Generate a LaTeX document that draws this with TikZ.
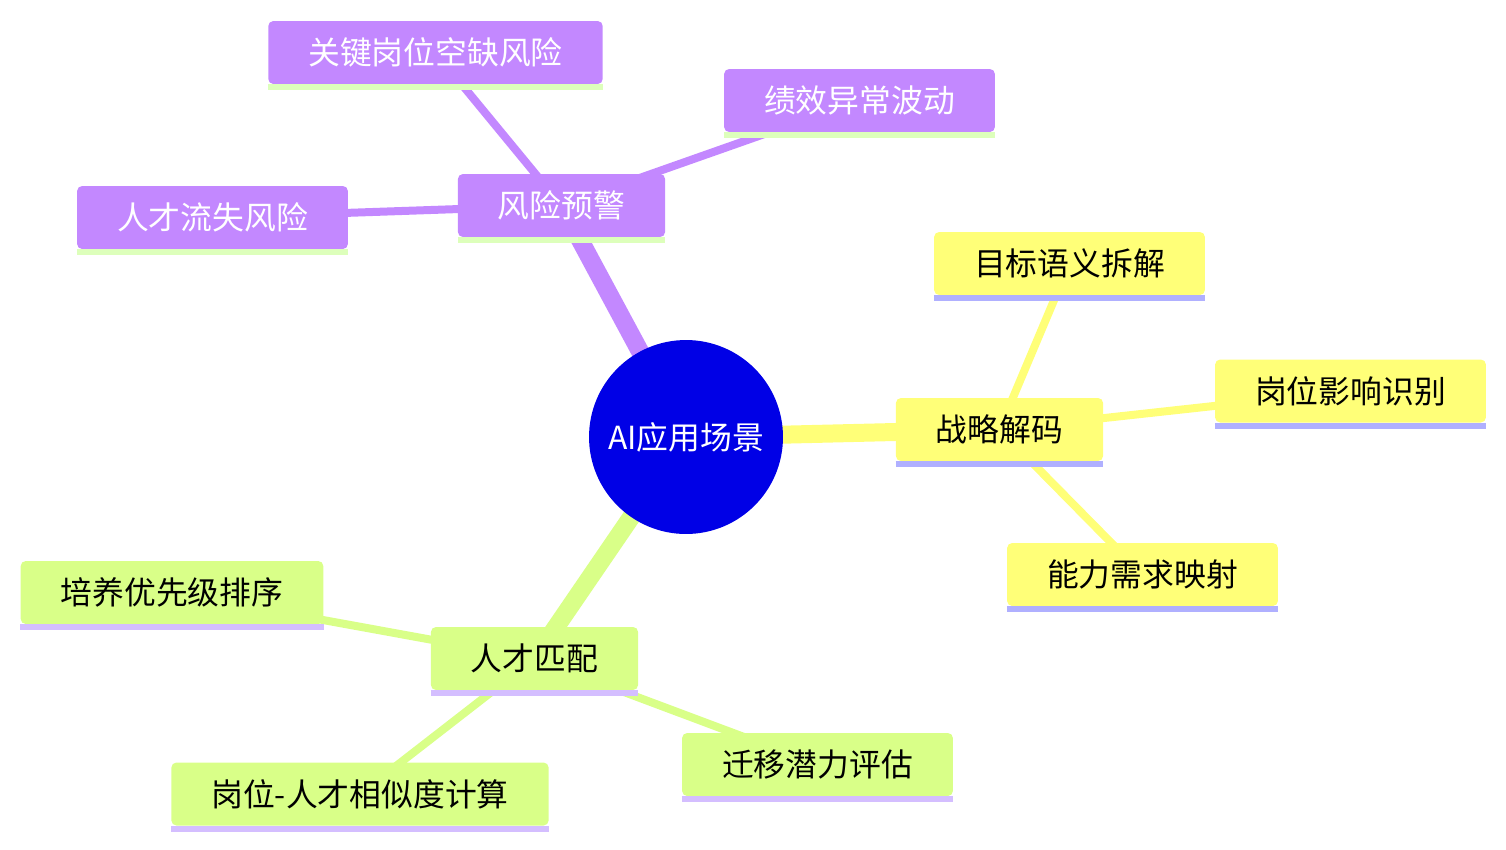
\documentclass[tikz,border=0pt]{standalone}
\usepackage{fontspec}
\newfontfamily\cjk{Noto Sans CJK SC}
\usetikzlibrary{backgrounds}

\definecolor{rootblue}{RGB}{0,0,230}
\definecolor{riskfill}{RGB}{195,136,255}
\definecolor{riskline}{RGB}{221,255,187}
\definecolor{stratfill}{RGB}{255,255,120}
\definecolor{stratline}{RGB}{176,176,255}
\definecolor{matchfill}{RGB}{217,255,136}
\definecolor{matchline}{RGB}{212,190,255}

\begin{document}
\begin{tikzpicture}[
    x=0.02cm, y=-0.02cm,
    box/.style={rectangle, rounded corners=0.1cm, minimum height=1.26cm, inner xsep=0.8cm, align=center, font=\cjk\fontsize{18.1}{22}\selectfont},
    risk/.style={box, fill=riskfill, text=white},
    strat/.style={box, fill=stratfill, text=black},
    match/.style={box, fill=matchfill, text=black},
    trunk/.style={line width=0.36cm},
    twig/.style={line width=0.16cm},
    uline/.style={line width=0.12cm}
]
\useasboundingbox (0,0) rectangle (1506,849);

% Root
\node[circle, fill=rootblue, text=white, minimum size=3.88cm, inner sep=0pt, font=\cjk\fontsize{18.1}{22}\selectfont] (root) at (686,437) {AI应用场景};

% Risk warning
\node[risk] (risk) at (561.5,205.5) {风险预警};
\node[risk] (loss) at (212.5,217.5) {人才流失风险};
\node[risk] (vacancy) at (435.5,52.5) {关键岗位空缺风险};
\node[risk] (perf) at (859.5,100.5) {绩效异常波动};

% Strategy decoding
\node[strat] (strat) at (999.5,429.5) {战略解码};
\node[strat] (goal) at (1069.5,263.5) {目标语义拆解};
\node[strat] (impact) at (1350.5,391) {岗位影响识别};
\node[strat] (ability) at (1142.5,574.5) {能力需求映射};

% Talent matching
\node[match] (match) at (534.5,658.5) {人才匹配};
\node[match] (train) at (172,592.5) {培养优先级排序};
\node[match] (sim) at (360,794) {岗位-人才相似度计算};
\node[match] (transfer) at (817.5,764.5) {迁移潜力评估};

% Underlines
\draw[uline, riskline] ([yshift=-0.06cm]risk.south west) -- ([yshift=-0.06cm]risk.south east);
\draw[uline, riskline] ([yshift=-0.06cm]loss.south west) -- ([yshift=-0.06cm]loss.south east);
\draw[uline, riskline] ([yshift=-0.06cm]vacancy.south west) -- ([yshift=-0.06cm]vacancy.south east);
\draw[uline, riskline] ([yshift=-0.06cm]perf.south west) -- ([yshift=-0.06cm]perf.south east);
\draw[uline, stratline] ([yshift=-0.06cm]strat.south west) -- ([yshift=-0.06cm]strat.south east);
\draw[uline, stratline] ([yshift=-0.06cm]goal.south west) -- ([yshift=-0.06cm]goal.south east);
\draw[uline, stratline] ([yshift=-0.06cm]impact.south west) -- ([yshift=-0.06cm]impact.south east);
\draw[uline, stratline] ([yshift=-0.06cm]ability.south west) -- ([yshift=-0.06cm]ability.south east);
\draw[uline, matchline] ([yshift=-0.06cm]match.south west) -- ([yshift=-0.06cm]match.south east);
\draw[uline, matchline] ([yshift=-0.06cm]train.south west) -- ([yshift=-0.06cm]train.south east);
\draw[uline, matchline] ([yshift=-0.06cm]sim.south west) -- ([yshift=-0.06cm]sim.south east);
\draw[uline, matchline] ([yshift=-0.06cm]transfer.south west) -- ([yshift=-0.06cm]transfer.south east);

% Branches
\begin{scope}[on background layer]
\draw[trunk, riskfill] (root.center) -- (risk.center);
\draw[trunk, stratfill] (root.center) -- (strat.center);
\draw[trunk, matchfill] (root.center) -- (match.center);
\draw[twig, riskfill] (risk.center) -- (loss.center);
\draw[twig, riskfill] (risk.center) -- (vacancy.center);
\draw[twig, riskfill] (risk.center) -- (perf.center);
\draw[twig, stratfill] (strat.center) -- (goal.center);
\draw[twig, stratfill] (strat.center) -- (impact.center);
\draw[twig, stratfill] (strat.center) -- (ability.center);
\draw[twig, matchfill] (match.center) -- (train.center);
\draw[twig, matchfill] (match.center) -- (sim.center);
\draw[twig, matchfill] (match.center) -- (transfer.center);
\end{scope}

\end{tikzpicture}
\end{document}
